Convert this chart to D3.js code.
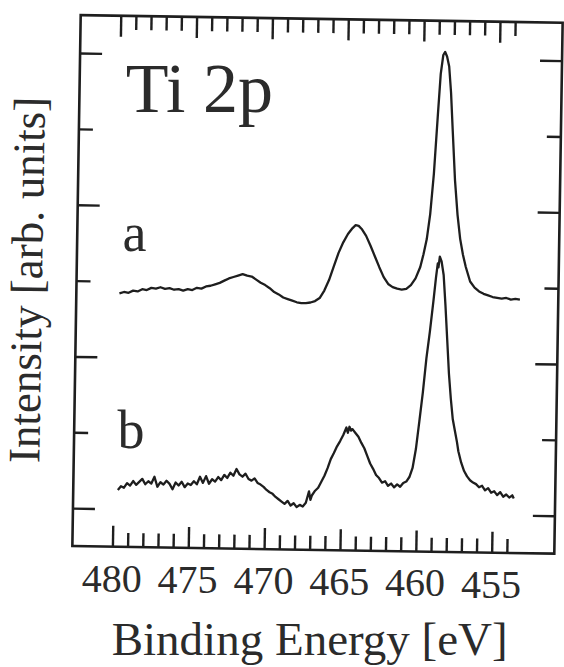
<!DOCTYPE html>
<html><head><meta charset="utf-8">
<script src="https://cdn.jsdelivr.net/npm/d3@7"></script>
</head><body style="margin:0">
<svg id="chart" width="564" height="667"></svg>
<script>
// ---------- data ----------
const xMinorTicks = [454,456,457,458,459,461,462,463,464,466,467,468,469,471,472,473,474,476,477,478,479];
const xMajorTicks = [480,475,470,465,460,455];
const xTickLabels = ["480","475","470","465","460","455"];
const yMinorTicks = [1.5,3.5,5.5];
const yMajorTicks = [0.5,2.5,4.5,6.5];
const xDomain = [482.64, 450.87];
const yDomain = [0, 7];
const panelTitle = "Ti 2p";
const seriesNames = ["a","b"];
const xTitle = "Binding Energy [eV]";
const yTitle = "Intensity [arb. units]";

// spectrum a: [binding energy eV, intensity]
const spectrumA = [
[479.8,3.34],[479.5,3.36],[479.2,3.35],[478.9,3.38],[478.6,3.37],[478.3,3.40],[478.0,3.39],[477.7,3.42],
[477.4,3.41],[477.1,3.43],[476.8,3.41],[476.5,3.42],[476.2,3.40],[475.9,3.41],[475.6,3.39],[475.3,3.41],
[475.0,3.40],[474.7,3.43],[474.4,3.42],[474.1,3.45],[473.8,3.46],[473.5,3.48],[473.2,3.50],[472.9,3.53],
[472.6,3.56],[472.3,3.58],[472.0,3.60],[471.7,3.62],[471.4,3.60],[471.1,3.59],[470.8,3.55],[470.5,3.51],
[470.2,3.48],[469.9,3.44],[469.6,3.39],[469.3,3.36],[469.0,3.32],[468.7,3.30],[468.4,3.28],[468.1,3.26],
[467.8,3.25],[467.5,3.25],[467.2,3.26],[466.9,3.28],[466.6,3.32],[466.3,3.42],[466.0,3.56],[465.7,3.74],
[465.4,3.92],[465.1,4.06],[464.8,4.17],[464.5,4.25],[464.3,4.29],[464.1,4.28],[463.9,4.24],[463.6,4.15],
[463.3,4.02],[463.0,3.88],[462.7,3.74],[462.4,3.61],[462.1,3.52],[461.8,3.48],[461.5,3.46],[461.2,3.45],
[460.9,3.46],[460.6,3.51],[460.3,3.60],[460.0,3.75],[459.8,3.92],[459.6,4.12],[459.4,4.45],[459.2,4.98],
[459.0,5.75],[458.85,6.30],[458.7,6.55],[458.58,6.59],[458.45,6.53],[458.3,6.40],[458.15,6.05],[458.0,5.55],
[457.8,4.90],[457.6,4.45],[457.4,4.13],[457.2,3.92],[457.0,3.76],[456.7,3.57],[456.4,3.49],[456.1,3.44],
[455.8,3.41],[455.5,3.39],[455.2,3.37],[454.9,3.36],[454.6,3.35],[454.3,3.36],[454.0,3.34],[453.7,3.35],
[453.4,3.34]
];

// spectrum b: [binding energy eV, intensity]
const spectrumB = [
[479.7,0.75],[479.5,0.80],[479.3,0.78],[479.1,0.84],[478.9,0.81],[478.7,0.87],[478.5,0.82],[478.3,0.86],
[478.1,0.90],[477.9,0.83],[477.7,0.87],[477.5,0.84],[477.3,0.93],[477.1,0.80],[476.9,0.86],[476.7,0.83],
[476.5,0.88],[476.3,0.84],[476.1,0.77],[475.9,0.86],[475.7,0.82],[475.5,0.87],[475.3,0.80],[475.1,0.85],
[474.9,0.83],[474.7,0.88],[474.5,0.84],[474.3,0.94],[474.1,0.86],[473.9,0.95],[473.7,0.85],[473.5,0.91],
[473.3,0.88],[473.1,0.94],[472.9,0.90],[472.7,0.97],[472.5,0.93],[472.3,1.00],[472.1,0.96],[471.9,1.05],
[471.7,0.98],[471.5,0.95],[471.3,0.99],[471.1,0.92],[470.9,0.90],[470.7,0.93],[470.5,0.87],[470.3,0.85],
[470.1,0.82],[469.9,0.78],[469.7,0.75],[469.5,0.73],[469.3,0.69],[469.1,0.66],[468.9,0.63],[468.7,0.60],
[468.5,0.64],[468.3,0.58],[468.1,0.61],[467.9,0.56],[467.7,0.59],[467.5,0.57],[467.3,0.62],[467.1,0.77],
[467.0,0.66],[466.9,0.72],[466.7,0.78],[466.5,0.82],[466.3,0.90],[466.1,0.98],[465.9,1.08],[465.7,1.20],
[465.5,1.28],[465.3,1.37],[465.1,1.44],[464.9,1.52],[464.7,1.62],[464.6,1.55],[464.5,1.63],[464.4,1.58],
[464.3,1.60],[464.1,1.55],[463.9,1.50],[463.7,1.42],[463.5,1.35],[463.3,1.25],[463.1,1.15],[462.9,1.08],
[462.7,1.00],[462.5,0.96],[462.3,0.90],[462.1,0.92],[461.9,0.86],[461.7,0.89],[461.5,0.84],[461.3,0.88],
[461.1,0.85],[460.9,0.90],[460.7,0.92],[460.5,0.98],[460.3,1.10],[460.1,1.35],[459.9,1.72],[459.7,2.10],
[459.5,2.55],[459.3,2.90],[459.1,3.30],[458.95,3.62],[458.85,3.80],[458.8,3.75],[458.72,3.89],[458.6,3.83],
[458.45,3.65],[458.3,3.25],[458.15,2.80],[458.0,2.35],[457.85,2.02],[457.7,1.75],[457.55,1.60],[457.4,1.45],
[457.3,1.33],[457.1,1.18],[456.9,1.07],[456.7,1.00],[456.5,0.95],[456.3,0.92],[456.1,0.90],[455.9,0.86],
[455.7,0.88],[455.5,0.82],[455.3,0.85],[455.1,0.79],[454.9,0.81],[454.7,0.76],[454.5,0.80],[454.3,0.74],
[454.1,0.77],[453.9,0.73],[453.7,0.76],[453.6,0.72]
];

// ---------- drawing ----------
const frame = {left:76.5, right:558.5, top:18.9, bottom:549.9};
const cx = (frame.left + frame.right) / 2, cy = (frame.top + frame.bottom) / 2;
const tilt = 0.9, rad = tilt * Math.PI / 180;
const ink = "#1e1e1e", textInk = "#2b2b2b";
const SERIF = '"Liberation Serif"';

function tiltPt(px, py){
  const dx = px - cx, dy = py - cy;
  return [cx + dx*Math.cos(rad) - dy*Math.sin(rad), cy + dx*Math.sin(rad) + dy*Math.cos(rad)];
}

const svg = d3.select("#chart");
svg.append("rect").attr("width",564).attr("height",667).attr("fill","#fff");
const g = svg.append("g").attr("transform", `rotate(${tilt}, ${cx}, ${cy})`);

const x = d3.scaleLinear().domain(xDomain).range([frame.left, frame.right]);
const y = d3.scaleLinear().domain(yDomain).range([frame.bottom, frame.top]);

function styleAxis(sel){
  sel.select(".domain").remove();
  sel.selectAll(".tick line").attr("stroke", ink).attr("stroke-width", 2.4);
}

g.append("g").attr("transform",`translate(0,${frame.bottom})`)
  .call(d3.axisBottom(x).tickValues(xMinorTicks).tickSize(-14).tickFormat("")).call(styleAxis);
g.append("g").attr("transform",`translate(0,${frame.bottom})`)
  .call(d3.axisBottom(x).tickValues(xMajorTicks).tickSize(-21).tickFormat("")).call(styleAxis);
g.append("g").attr("transform",`translate(0,${frame.top})`)
  .call(d3.axisTop(x).tickValues(xMinorTicks).tickSize(-14).tickFormat("")).call(styleAxis);
g.append("g").attr("transform",`translate(0,${frame.top})`)
  .call(d3.axisTop(x).tickValues(xMajorTicks).tickSize(-21).tickFormat("")).call(styleAxis);
g.append("g").attr("transform",`translate(${frame.left},0)`)
  .call(d3.axisLeft(y).tickValues(yMinorTicks).tickSize(-14).tickFormat("")).call(styleAxis);
g.append("g").attr("transform",`translate(${frame.left},0)`)
  .call(d3.axisLeft(y).tickValues(yMajorTicks).tickSize(-22).tickFormat("")).call(styleAxis);
g.append("g").attr("transform",`translate(${frame.right},0)`)
  .call(d3.axisRight(y).tickValues(yMinorTicks).tickSize(-14).tickFormat("")).call(styleAxis);
g.append("g").attr("transform",`translate(${frame.right},0)`)
  .call(d3.axisRight(y).tickValues(yMajorTicks).tickSize(-22).tickFormat("")).call(styleAxis);

g.append("rect")
  .attr("x", frame.left).attr("y", frame.top)
  .attr("width", frame.right - frame.left).attr("height", frame.bottom - frame.top)
  .attr("fill","none").attr("stroke", ink).attr("stroke-width", 2.6);

const line = d3.line().x(d=>x(d[0])).y(d=>y(d[1]));
[spectrumA, spectrumB].forEach(s=>{
  g.append("path").datum(s).attr("d", line)
    .attr("fill","none").attr("stroke", ink).attr("stroke-width", 2.3)
    .attr("stroke-linejoin","round");
});

function addText(pt, size, str, anchor, rot){
  return svg.append("text")
    .attr("transform", `translate(${pt[0]},${pt[1]}) rotate(${rot || 0})`)
    .style("font-family", SERIF).style("font-size", size + "px")
    .attr("text-anchor", anchor || "start")
    .attr("fill", textInk).text(str);
}
xMajorTicks.forEach((v,i)=> addText(tiltPt(x(v), frame.bottom + 45), 40, xTickLabels[i], "middle"));
addText(tiltPt(123, 114.7), 70, panelTitle, "start");
addText(tiltPt(122, 254), 54, seriesNames[0], "start");
addText(tiltPt(120, 451), 54, seriesNames[1], "start");
addText(tiltPt(cx - 2, 655), 47, xTitle, "middle");
addText(tiltPt(42, cy), 45, yTitle, "middle", -90 + tilt);
</script>
</body></html>
